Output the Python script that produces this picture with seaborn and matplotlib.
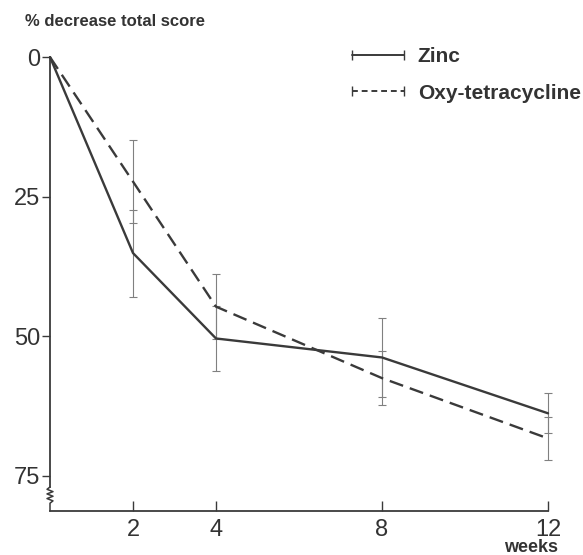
import matplotlib
matplotlib.use('Agg')
import matplotlib.pyplot as plt
import matplotlib.transforms as mtransforms
from matplotlib.lines import Line2D
import seaborn as sns
import pandas as pd
import numpy as np

# values
weeks = [0, 2, 4, 8, 12]
zinc = [0, 35.1, 50.4, 53.8, 63.8]
zinc_err = [0, 7.8, 5.9, 7.0, 3.6]
oxy = [0, 22.3, 44.7, 57.5, 68.3]
oxy_err = [0, 7.4, 5.8, 4.8, 3.9]
drugs = ['Zinc', 'Oxy-tetracycline']
y_ticks = [0, 25, 50, 75]
x_ticks = [2, 4, 8, 12]

sns.set_style('ticks')
plt.rcParams['font.family'] = ['Liberation Sans', 'DejaVu Sans']

ink = '#3a3a3a'
bar_col = '#808080'

df = pd.DataFrame({
    'week': weeks * 2,
    'decrease': zinc + oxy,
    'err': zinc_err + oxy_err,
    'drug': [drugs[0]] * len(weeks) + [drugs[1]] * len(weeks),
})

fig = plt.figure(figsize=(5.83, 5.55), dpi=100)
ax = fig.add_axes([50 / 583, 1 - 511 / 555, 498 / 583, (511 - 51.5) / 555])

# error bars first so the lines sit on top
for name in drugs:
    sub = df[(df['drug'] == name) & (df['week'] > 0)]
    eb = ax.errorbar(sub['week'], sub['decrease'], yerr=sub['err'], fmt='none',
                     ecolor=bar_col, elinewidth=0.8, capsize=3, capthick=0.8, zorder=2)
    for art in eb.get_children():
        art.set_clip_on(False)

sns.lineplot(data=df, x='week', y='decrease', style='drug', style_order=drugs,
             dashes={drugs[0]: '', drugs[1]: (6, 3)}, color=ink, linewidth=1.7,
             legend=False, ax=ax, zorder=3, clip_on=False)

ax.set_xlim(0, 12)
ax.set_ylim(81.3, -1)
ax.set_xticks(x_ticks)
ax.set_yticks(y_ticks)
ax.set_xlabel('')
ax.set_ylabel('')
sns.despine(ax=ax)
for side in ['left', 'bottom']:
    ax.spines[side].set_color(ink)
    ax.spines[side].set_linewidth(1.3)
ax.spines['left'].set_bounds(0, 77)
ax.tick_params(axis='x', direction='in', length=7, width=1, color=ink,
               labelsize=17, pad=6, labelcolor='#333333')
ax.tick_params(axis='y', direction='out', length=6, width=1, color=ink,
               labelsize=17, pad=1, labelcolor='#333333')

# axis break squiggle on the y axis
trans = mtransforms.blended_transform_factory(ax.transAxes, ax.transData)
zz_y = np.linspace(77, 79.9, 8)
zz_x = np.array([0, -0.006, 0.006, -0.006, 0.006, -0.006, 0.006, 0])
ax.plot(np.r_[zz_x, 0], np.r_[zz_y, 81.3], transform=trans, color=ink,
        linewidth=1.1, clip_on=False)

# legend with capped handles
handles = [Line2D([], [], color=ink, lw=1.4, ls='-', marker='|', markersize=7),
           Line2D([], [], color=ink, lw=1.4, ls=(0, (3, 2)), marker='|', markersize=7)]
leg = fig.legend(handles, drugs, loc='upper left', bbox_to_anchor=(346 / 583, 1 - 47 / 555),
                 frameon=False, numpoints=2, handlelength=3.1, handletextpad=0.35,
                 labelspacing=0.85, borderpad=0, borderaxespad=0,
                 prop={'size': 15, 'weight': 'bold'})
for t in leg.get_texts():
    t.set_color('#333333')

fig.text(25 / 583, 1 - 21.5 / 555, '% decrease total score', fontsize=12,
         fontweight='bold', color='#333333', va='center', ha='left')
fig.text(531 / 583, 1 - 548 / 555, 'weeks', fontsize=13, fontweight='bold',
         color='#333333', va='center', ha='center')

fig.savefig('out.png', dpi=100)
